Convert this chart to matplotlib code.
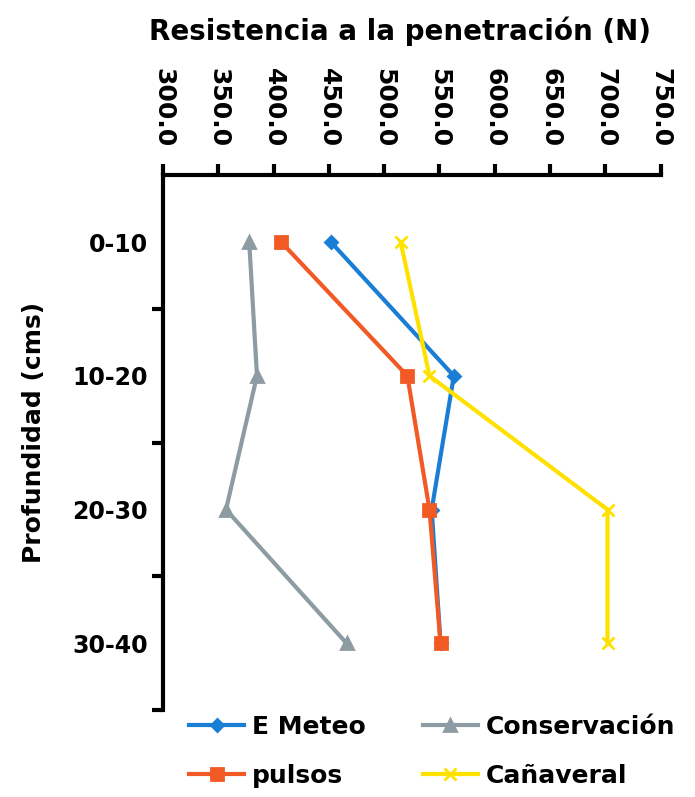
import numpy as np
import matplotlib.pyplot as plt

# Profundidades y resistencia media por tratamiento (N)
profundidades = ["0-10", "10-20", "20-30", "30-40"]
e_meteo = [452.0, 563.0, 543.0, 551.0]
pulsos = [407.0, 521.0, 541.0, 551.0]
conservacion = [378.0, 385.0, 357.0, 466.0]
canaveral = [515.0, 541.0, 702.0, 702.0]

x_ticks = np.arange(300, 751, 50)

plt.rcParams["font.family"] = ["DejaVu Sans"]
plt.rcParams["font.weight"] = "bold"

fig = plt.figure(figsize=(6.95, 7.97), dpi=100)
ax = fig.add_axes([0.2345, 0.109, 0.716, 0.671])

y = np.arange(len(profundidades))
series = [
    ("E Meteo", e_meteo, "#1a7fd4", "D", 6),
    ("pulsos", pulsos, "#f15a24", "s", 9),
    ("Conservación", conservacion, "#8d9ba2", "^", 8),
    ("Cañaveral", canaveral, "#ffe100", "x", 8),
]
for name, vals, color, marker, ms in series:
    ax.plot(vals, y, color=color, lw=3, marker=marker, ms=ms,
            mew=2, label=name)

ax.set_xlim(300, 750)
ax.set_ylim(len(profundidades) - 0.5, -0.5)
ax.xaxis.tick_top()
ax.set_xticks(x_ticks)
ax.set_xticklabels([f"{v:.1f}" for v in x_ticks], rotation=270,
                   fontsize=18, fontweight="bold")
ax.set_yticks(y)
ax.set_yticklabels(profundidades, fontsize=17, fontweight="bold")
ax.set_yticks(np.arange(0.5, len(profundidades), 1.0), minor=True)
ax.tick_params(axis="y", which="major", length=0, pad=11)
ax.tick_params(axis="y", which="minor", length=8, width=3, direction="out")
ax.tick_params(axis="x", length=8, width=3, pad=12)

for side in ["right", "bottom"]:
    ax.spines[side].set_visible(False)
for side in ["left", "top"]:
    ax.spines[side].set_linewidth(3)

ax.set_ylabel("Profundidad (cms)", fontsize=18, fontweight="bold")
ax.yaxis.set_label_coords(-0.235, 0.52)
fig.text(0.575, 0.961, "Resistencia a la penetración (N)", ha="center",
         va="center", fontsize=20, fontweight="bold")

fig.legend(loc="upper left", bbox_to_anchor=(0.272, 0.103), ncol=2,
           frameon=False, prop={"weight": "bold", "size": 18},
           handlelength=2.2, columnspacing=2.3, handletextpad=0.3,
           labelspacing=1.0, borderaxespad=0, borderpad=0)

fig.savefig("out.png", dpi=100)
